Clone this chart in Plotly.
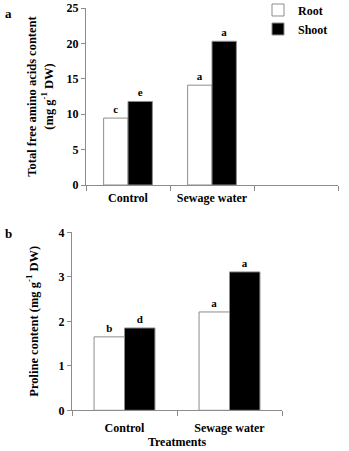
import plotly.graph_objects as go

# ---- data ----
cat_top = ["Control", "Sewage water"]
root_amino = [9.45, 14.1]
shoot_amino = [11.8, 20.3]
root_amino_lbl = ["c", "a"]
shoot_amino_lbl = ["e", "a"]

cat_bot = ["Control", "Sewage water"]
root_pro = [1.65, 2.21]
shoot_pro = [1.85, 3.11]
root_pro_lbl = ["b", "a"]
shoot_pro_lbl = ["d", "a"]

FONT = "Liberation Serif"
GRAY = "#8c8c8c"
W, H = 349, 451

xt = list(range(len(cat_top)))
xb = list(range(len(cat_bot)))

lblfont = dict(family=FONT, size=11, color="black", weight="bold")

fig = go.Figure()
fig.add_trace(go.Bar(x=xt, y=root_amino, name="Root", marker=dict(color="white", line=dict(color=GRAY, width=1)),
                     text=root_amino_lbl, textposition="outside", cliponaxis=False, textfont=lblfont,
                     xaxis="x", yaxis="y"))
fig.add_trace(go.Bar(x=xt, y=shoot_amino, name="Shoot", marker=dict(color="black", line=dict(color=GRAY, width=1)),
                     text=shoot_amino_lbl, textposition="outside", cliponaxis=False, textfont=lblfont,
                     xaxis="x", yaxis="y"))
fig.add_trace(go.Bar(x=xb, y=root_pro, name="Root", showlegend=False,
                     marker=dict(color="white", line=dict(color=GRAY, width=1)),
                     text=root_pro_lbl, textposition="outside", cliponaxis=False, textfont=lblfont,
                     xaxis="x2", yaxis="y2"))
fig.add_trace(go.Bar(x=xb, y=shoot_pro, name="Shoot", showlegend=False,
                     marker=dict(color="black", line=dict(color=GRAY, width=1)),
                     text=shoot_pro_lbl, textposition="outside", cliponaxis=False, textfont=lblfont,
                     xaxis="x2", yaxis="y2"))

tickfont = dict(family=FONT, size=12, color="black", weight="bold")
titlefont = dict(family=FONT, size=12.5, color="black")

def px2x(p):
    return p / W

def px2y(p):
    return 1 - p / H

xaxis_common = dict(showline=True, linecolor=GRAY, linewidth=1, showgrid=False, zeroline=False,
                    ticks="", tickfont=tickfont, automargin=False,
                    minor=dict(ticks="outside", ticklen=5, tickcolor=GRAY, tickwidth=1, tick0=0.5, dtick=1, showgrid=False))
yaxis_common = dict(showline=True, linecolor=GRAY, linewidth=1, showgrid=False, zeroline=False,
                    ticks="outside", ticklen=4, tickcolor=GRAY, tickfont=tickfont, automargin=False)

fig.update_layout(
    width=W, height=H, margin=dict(l=0, r=0, t=0, b=0, autoexpand=False),
    paper_bgcolor="white", plot_bgcolor="white",
    barmode="group", bargap=0.42, bargroupgap=0,
    font=dict(family=FONT, color="black"),
    xaxis=dict(domain=[px2x(86), px2x(338)], range=[-0.5, 2.5], tickvals=xt, ticktext=cat_top,
               anchor="y", ticklabelstandoff=2, **xaxis_common),
    yaxis=dict(domain=[px2y(185), px2y(8)], range=[0, 25], dtick=5, anchor="x",
               title=dict(text="<b>Total free amino acids content</b><br><b>(mg g<sup>-1</sup> DW)</b>",
                          font=titlefont, standoff=10),
               **yaxis_common),
    xaxis2=dict(domain=[px2x(72), px2x(282)], range=[-0.5, 1.5], tickvals=xb, ticktext=cat_bot,
                anchor="y2", ticklabelstandoff=6,
                title=dict(text="<b>Treatments</b>", font=dict(family=FONT, size=12, color="black"), standoff=0),
                **xaxis_common),
    yaxis2=dict(domain=[px2y(410.3), px2y(232.3)], range=[0, 4], dtick=1, anchor="x2",
                title=dict(text="<b>Proline content (mg g<sup>-1</sup> DW)</b>",
                           font=titlefont, standoff=17),
                **yaxis_common),
    legend=dict(x=px2x(258), y=1.01, xanchor="left", yanchor="top", bgcolor="rgba(0,0,0,0)",
                font=dict(family=FONT, size=12, color="black", weight="bold"), tracegroupgap=0,
                itemwidth=30),
    annotations=[
        dict(text="<b>a</b>", x=px2x(8), y=px2y(14), xref="paper", yref="paper", showarrow=False,
             xanchor="center", yanchor="middle", font=dict(family=FONT, size=13, color="black")),
        dict(text="<b>b</b>", x=px2x(8), y=px2y(233), xref="paper", yref="paper", showarrow=False,
             xanchor="center", yanchor="middle", font=dict(family=FONT, size=13, color="black")),
    ],
)

fig.write_html("out.html")
